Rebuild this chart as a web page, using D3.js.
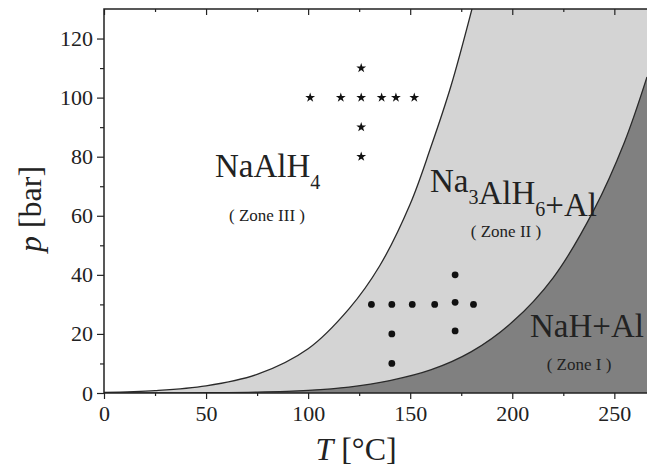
<!DOCTYPE html>
<html>
<head>
<meta charset="utf-8">
<script src="https://cdn.jsdelivr.net/npm/d3@7"></script>
<style>
  body { margin: 0; background: #fff; }
  svg { display: block; font-family: "Liberation Serif", "DejaVu Serif", serif; }
</style>
</head>
<body>
<svg width="647" height="467"></svg>
<script>
// boundary NaAlH4 / Na3AlH6+Al  [T, p]
const upperBoundary = [[0, 0.2], [25, 0.8], [50, 2.4], [75, 6.3], [100, 15], [120, 28.5], [135, 43],
  [150, 64], [160, 83], [170, 104], [181, 132]];
// boundary Na3AlH6+Al / NaH+Al
const lowerBoundary = [[0, 0.01], [25, 0.03], [50, 0.1], [75, 0.3], [100, 0.9], [120, 2], [140, 4.2],
  [160, 7.8], [180, 14], [200, 24], [220, 39], [240, 62], [255, 85], [266, 107]];

// measurement points
const starT = [101, 116, 126, 136, 143, 152, 126, 126, 126];
const starP = [100, 100, 100, 100, 100, 100, 110, 90, 80];
const dotT = [131, 141, 151, 162, 172, 181, 141, 141, 172, 172];
const dotP = [30, 30, 30, 30, 30.7, 30, 20, 10, 40, 21];

const tempTicks = [0, 50, 100, 150, 200, 250];
const tempMinor = [25, 75, 125, 175, 225];
const presTicks = [0, 20, 40, 60, 80, 100, 120];
const presMinor = [10, 30, 50, 70, 90, 110];

const width = 647, height = 467;
const margin = {top: 9, right: 0, bottom: 74, left: 104};

const svg = d3.select('svg');

const x = d3.scaleLinear().domain([0, 266]).range([margin.left, width - margin.right]);
const y = d3.scaleLinear().domain([0, 130]).range([height - margin.bottom, margin.top]);

svg.append('clipPath').attr('id', 'plot')
  .append('rect')
    .attr('x', x(0)).attr('y', y(130))
    .attr('width', x(266) - x(0)).attr('height', y(0) - y(130));

const plot = svg.append('g').attr('clip-path', 'url(#plot)');

// zone II background, zone III (white) above upper curve, zone I below lower curve
plot.append('rect')
  .attr('x', x(0)).attr('y', y(130))
  .attr('width', x(266) - x(0)).attr('height', y(0) - y(130))
  .attr('fill', '#d4d4d4');

const smooth = d3.curveCatmullRom.alpha(0.5);

plot.append('path')
  .datum(upperBoundary)
  .attr('fill', '#fff')
  .attr('d', d3.area().curve(smooth)
    .x(d => x(d[0])).y0(d => y(d[1])).y1(y(140)));

plot.append('path')
  .datum(lowerBoundary)
  .attr('fill', '#808080')
  .attr('d', d3.area().curve(smooth)
    .x(d => x(d[0])).y0(y(0)).y1(d => y(d[1])));

const line = d3.line().curve(smooth).x(d => x(d[0])).y(d => y(d[1]));
[upperBoundary, lowerBoundary].forEach(b => {
  plot.append('path').datum(b)
    .attr('fill', 'none')
    .attr('stroke', '#2a2a2a')
    .attr('stroke-width', 1.3)
    .attr('d', line);
});

// stars
const starData = starT.map((t, i) => [t, starP[i]]);
plot.append('g').selectAll('path')
  .data(starData)
  .enter().append('path')
    .attr('transform', d => `translate(${x(d[0])},${y(d[1])})`)
    .attr('d', d3.symbol().type(d3.symbolStar).size(30))
    .attr('fill', '#111');

const dotData = dotT.map((t, i) => [t, dotP[i]]);
plot.append('g').selectAll('circle')
  .data(dotData)
  .enter().append('circle')
    .attr('cx', d => x(d[0]))
    .attr('cy', d => y(d[1]))
    .attr('r', 3.4)
    .attr('fill', '#111');

// axes
const styleAxis = g => g
  .call(g => g.selectAll('.tick line').attr('stroke', '#222').attr('stroke-width', 1.2))
  .call(g => g.selectAll('.tick text')
    .attr('font-family', '"Liberation Serif", serif')
    .attr('font-size', 22)
    .attr('fill', '#222'));

svg.append('g')
  .attr('transform', `translate(0,${y(0)})`)
  .call(d3.axisBottom(x).tickValues(tempTicks).tickSize(6).tickPadding(6).tickSizeOuter(0))
  .call(styleAxis)
  .call(g => g.select('.domain').remove());

svg.append('g')
  .attr('transform', `translate(0,${y(0)})`)
  .call(d3.axisBottom(x).tickValues(tempMinor).tickSize(3).tickFormat(''))
  .call(styleAxis)
  .call(g => g.select('.domain').remove());

svg.append('g')
  .attr('transform', `translate(0,${y(130)})`)
  .call(d3.axisBottom(x).tickValues(tempTicks).tickSize(6).tickFormat(''))
  .call(styleAxis)
  .call(g => g.select('.domain').remove());

svg.append('g')
  .attr('transform', `translate(0,${y(130)})`)
  .call(d3.axisBottom(x).tickValues(tempMinor).tickSize(3).tickFormat(''))
  .call(styleAxis)
  .call(g => g.select('.domain').remove());

svg.append('g')
  .attr('transform', `translate(${x(0)},0)`)
  .call(d3.axisLeft(y).tickValues(presTicks).tickSize(7).tickPadding(4))
  .call(styleAxis)
  .call(g => g.select('.domain').remove());

svg.append('g')
  .attr('transform', `translate(${x(0)},0)`)
  .call(d3.axisLeft(y).tickValues(presMinor).tickSize(4).tickFormat(''))
  .call(styleAxis)
  .call(g => g.select('.domain').remove());

// frame lines
svg.append('path')
  .attr('d', `M${x(266)},${y(130)}H${x(0)}V${y(0)}H${x(266)}`)
  .attr('fill', 'none')
  .attr('stroke', '#222')
  .attr('stroke-width', 1.5);

// axis titles
const yTitle = svg.append('text')
  .attr('transform', `translate(41,${(y(0) + y(130)) / 2 + 8}) rotate(-90)`)
  .attr('text-anchor', 'middle')
  .attr('font-size', 32)
  .attr('fill', '#222');
yTitle.append('tspan').attr('font-style', 'italic').text('p');
yTitle.append('tspan').text(' [bar]');

const xTitle = svg.append('text')
  .attr('x', 356).attr('y', 460)
  .attr('text-anchor', 'middle')
  .attr('font-size', 32)
  .attr('fill', '#222');
xTitle.append('tspan').attr('font-style', 'italic').text('T');
xTitle.append('tspan').text(' [°C]');

// zone labels
function formula(parts, px, py) {
  const t = svg.append('text').attr('x', px).attr('y', py)
    .attr('font-size', 33).attr('fill', '#222');
  parts.forEach(p => {
    if (p.sub) {
      t.append('tspan').attr('font-size', 20).attr('dy', 12).text(p.sub);
      t.append('tspan').attr('dy', -12).text('');
    } else {
      t.append('tspan').text(p.txt);
    }
  });
  return t;
}

formula([{txt: 'NaAlH'}, {sub: '4'}], 215, 177);
svg.append('text').attr('x', 267).attr('y', 221).attr('text-anchor', 'middle')
  .attr('font-size', 17).attr('fill', '#222').text('( Zone III )');

formula([{txt: 'Na'}, {sub: '3'}, {txt: 'AlH'}, {sub: '6'}, {txt: '+Al'}], 430, 192);
svg.append('text').attr('x', 506).attr('y', 237).attr('text-anchor', 'middle')
  .attr('font-size', 17).attr('fill', '#222').text('( Zone II )');

formula([{txt: 'NaH+Al'}], 530, 337);
svg.append('text').attr('x', 579).attr('y', 370).attr('text-anchor', 'middle')
  .attr('font-size', 17).attr('fill', '#222').text('( Zone I )');
</script>
</body>
</html>
